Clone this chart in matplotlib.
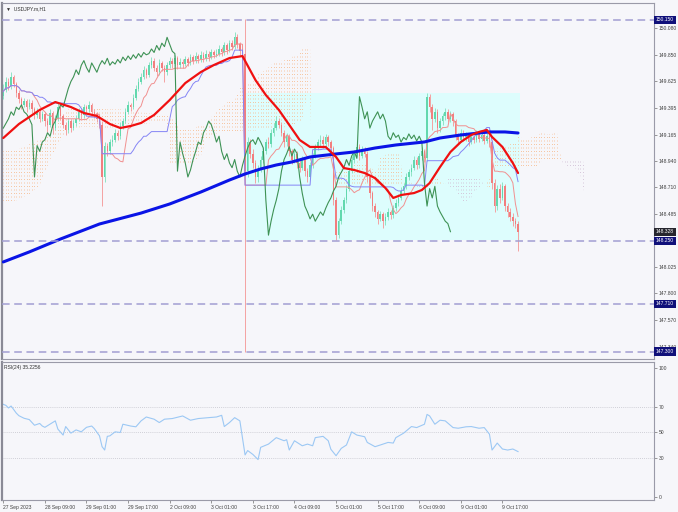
import numpy as np
import pandas as pd
import matplotlib
matplotlib.use('Agg')
import matplotlib.pyplot as plt
from matplotlib.path import Path
from matplotlib.transforms import blended_transform_factory

plt.rcParams['font.family'] = ['Liberation Sans', 'DejaVu Sans']

# USDJPY H1, 27 Sep 17:00 .. 9 Oct 23:00 (bar index = hour on the chart)
open0 = 149.50
closes = [
    149.55, 149.62, 149.58, 149.66, 149.60, 149.52, 149.47, 149.42, 149.45, 149.40,
    149.44, 149.38, 149.33, 149.36, 149.30, 149.34, 149.28, 149.25, 149.35, 149.22,
    149.30, 149.40, 149.32, 149.25, 149.20, 149.28, 149.22, 149.26, 149.30, 149.36,
    149.33, 149.40, 149.38, 149.42, 149.36, 149.34, 149.30, 149.25, 148.80, 149.07,
    149.02, 149.10, 149.12, 149.18, 149.15, 149.24, 149.28, 149.36, 149.42, 149.40,
    149.48, 149.56, 149.62, 149.66, 149.72, 149.68, 149.76, 149.80, 149.74, 149.70,
    149.78, 149.74, 149.70, 149.76, 149.80, 149.77, 149.82, 149.76, 149.79, 149.77,
    149.81, 149.78, 149.83, 149.80, 149.84, 149.81, 149.85, 149.82, 149.86, 149.83,
    149.87, 149.85, 149.86, 149.90, 149.87, 149.93, 149.89, 149.95, 149.92, 150.00,
    149.94, 149.88, 149.86, 148.85, 149.10, 149.00, 148.92, 148.80, 148.86, 148.95,
    149.02, 149.10, 149.08, 149.18, 149.22, 149.28, 149.25, 149.18, 149.10, 149.15,
    149.02, 148.95, 149.00, 148.92, 148.88, 148.95, 148.85, 148.80, 148.90, 148.98,
    149.05, 149.10, 149.12, 149.08, 149.14, 149.10, 149.05, 148.60, 148.30, 148.42,
    148.52, 148.60, 148.70, 148.85, 148.95, 149.00, 149.06, 148.98, 149.04, 149.00,
    148.80, 148.66, 148.55, 148.50, 148.44, 148.48, 148.42, 148.46, 148.50, 148.47,
    148.53, 148.58, 148.62, 148.68, 148.72, 148.80, 148.84, 148.88, 148.95, 148.90,
    148.98, 149.02, 148.96, 149.49, 149.40, 149.30, 149.36, 149.22, 149.28, 149.32,
    149.36, 149.30, 149.34, 149.28, 149.15, 149.12, 149.18, 149.14, 149.16, 149.10,
    149.14, 149.12, 149.17, 149.13, 149.16, 149.11, 149.15, 149.10, 148.75, 148.55,
    148.70, 148.62, 148.72, 148.55, 148.50, 148.46, 148.42, 148.40, 148.33,
]
highs = [
    149.60, 149.66, 149.65, 149.70, 149.68, 149.62, 149.55, 149.49, 149.48, 149.47,
    149.47, 149.46, 149.40, 149.39, 149.38, 149.37, 149.36, 149.31, 149.38, 149.37,
    149.33, 149.44, 149.42, 149.34, 149.27, 149.31, 149.30, 149.29, 149.33, 149.39,
    149.38, 149.43, 149.42, 149.45, 149.44, 149.38, 149.36, 149.32, 149.28, 149.10,
    149.09, 149.13, 149.16, 149.21, 149.20, 149.27, 149.31, 149.39, 149.45, 149.44,
    149.51, 149.59, 149.65, 149.69, 149.75, 149.74, 149.79, 149.83, 149.82, 149.76,
    149.81, 149.80, 149.76, 149.79, 149.83, 149.82, 149.85, 149.84, 149.82, 149.81,
    149.84, 149.83, 149.86, 149.85, 149.87, 149.86, 149.88, 149.87, 149.89, 149.88,
    149.90, 149.89, 149.90, 149.93, 149.92, 149.96, 149.95, 149.98, 149.98, 150.05,
    150.03, 149.96, 149.91, 150.16, 149.14, 149.13, 149.04, 148.95, 148.90, 148.98,
    149.05, 149.13, 149.14, 149.21, 149.26, 149.32, 149.31, 149.27, 149.20, 149.18,
    149.17, 149.04, 149.03, 149.02, 148.95, 148.98, 148.97, 148.88, 148.93, 149.01,
    149.08, 149.13, 149.16, 149.15, 149.17, 149.16, 149.12, 149.07, 148.63, 148.45,
    148.55, 148.63, 148.73, 148.88, 148.98, 149.03, 149.10, 149.08, 149.07, 149.06,
    149.02, 148.82, 148.68, 148.58, 148.52, 148.51, 148.50, 148.49, 148.53, 148.52,
    148.56, 148.61, 148.65, 148.71, 148.75, 148.83, 148.87, 148.91, 148.98, 148.97,
    149.01, 149.06, 149.04, 149.52, 149.51, 149.43, 149.39, 149.38, 149.31, 149.35,
    149.39, 149.38, 149.37, 149.36, 149.30, 149.18, 149.21, 149.20, 149.19, 149.18,
    149.17, 149.16, 149.20, 149.19, 149.19, 149.18, 149.18, 149.17, 149.12, 148.78,
    148.73, 148.74, 148.76, 148.74, 148.58, 148.53, 148.49, 148.45, 148.42,
]
lows = [
    149.47, 149.53, 149.55, 149.56, 149.57, 149.49, 149.44, 149.38, 149.40, 149.36,
    149.38, 149.35, 149.30, 149.31, 149.27, 149.28, 149.24, 149.19, 149.23, 149.17,
    149.20, 149.28, 149.29, 149.22, 149.16, 149.18, 149.19, 149.20, 149.24, 149.28,
    149.30, 149.31, 149.35, 149.36, 149.33, 149.31, 149.27, 149.22, 148.55, 148.76,
    148.98, 149.00, 149.07, 149.10, 149.12, 149.13, 149.21, 149.26, 149.34, 149.37,
    149.38, 149.46, 149.54, 149.60, 149.64, 149.65, 149.66, 149.74, 149.71, 149.67,
    149.68, 149.71, 149.62, 149.68, 149.74, 149.74, 149.75, 149.73, 149.74, 149.74,
    149.75, 149.75, 149.76, 149.77, 149.78, 149.78, 149.79, 149.79, 149.80, 149.80,
    149.81, 149.82, 149.83, 149.84, 149.84, 149.85, 149.86, 149.87, 149.89, 149.90,
    149.91, 149.85, 149.83, 147.30, 148.80, 148.96, 148.88, 148.75, 148.76, 148.84,
    148.92, 149.00, 149.05, 149.06, 149.15, 149.20, 149.22, 149.15, 149.06, 149.07,
    148.98, 148.91, 148.92, 148.88, 148.84, 148.86, 148.81, 148.76, 148.78, 148.88,
    148.96, 149.03, 149.07, 149.05, 149.06, 149.07, 149.02, 148.56, 148.26, 148.28,
    148.40, 148.49, 148.58, 148.68, 148.83, 148.92, 148.97, 148.95, 148.96, 148.97,
    148.76, 148.62, 148.51, 148.46, 148.40, 148.42, 148.36, 148.39, 148.43, 148.44,
    148.45, 148.51, 148.55, 148.60, 148.65, 148.70, 148.77, 148.81, 148.86, 148.87,
    148.88, 148.95, 148.93, 148.94, 149.36, 149.20, 149.27, 149.18, 149.19, 149.25,
    149.29, 149.27, 149.27, 149.24, 149.12, 149.09, 149.10, 149.11, 149.11, 149.07,
    149.08, 149.09, 149.10, 149.10, 149.11, 149.08, 149.09, 149.06, 148.70, 148.50,
    148.52, 148.58, 148.60, 148.51, 148.46, 148.42, 148.38, 148.36, 148.16,
]

# moving averages
ma_red_x = [0, 6, 14, 20, 26, 31, 36, 41, 45, 49, 53, 58, 64, 70, 76, 81, 87, 92, 97,
            101, 106, 110, 114, 118, 124, 128, 131, 135, 139, 143, 147, 150, 153, 158,
            161, 164, 168, 172, 176, 180, 183, 186, 188, 192, 196, 198]
ma_red = [149.135, 149.255, 149.376, 149.444, 149.401, 149.350, 149.324, 149.255, 149.221,
          149.238, 149.264, 149.333, 149.461, 149.607, 149.702, 149.762, 149.822, 149.839,
          149.633, 149.504, 149.376, 149.247, 149.118, 149.058, 149.058, 148.972, 148.877,
          148.860, 148.834, 148.791, 148.705, 148.620, 148.645, 148.662, 148.688, 148.748,
          148.886, 149.015, 149.101, 149.161, 149.187, 149.204, 149.144, 149.058, 148.920,
          148.834]
ma_blue_x = [0, 10, 22, 37, 53, 64, 76, 87, 93, 99, 105, 111, 118, 128, 135, 143, 151,
             162, 168, 176, 183, 187, 193, 198]
ma_blue = [148.070, 148.156, 148.267, 148.396, 148.490, 148.568, 148.671, 148.774, 148.826,
           148.869, 148.903, 148.929, 148.972, 148.998, 149.015, 149.049, 149.075, 149.101,
           149.135, 149.161, 149.178, 149.187, 149.187, 149.178]

# cloud before the data window (span values shifted in from earlier bars)
early_x = [0, 5, 10, 14, 18, 22, 25, 30, 35, 40, 45, 50, 55, 60, 63, 64, 68, 72, 76]
early_a = [149.03, 149.03, 149.08, 149.12, 149.18, 149.31, 149.38, 149.41, 149.39, 149.38,
           149.38, 149.36, 149.35, 149.34, 149.34, 149.33, 149.22, 149.20, 149.25]
early_b = [148.58, 148.60, 148.65, 148.73, 148.95, 149.12, 149.19, 149.23, 149.23, 149.22,
           149.23, 149.26, 149.26, 149.27, 149.27, 148.92, 148.91, 148.91, 148.98]

rsi_x = [0, 1, 2, 3, 5, 6, 8, 10, 12, 14, 15, 16, 20, 21, 23, 24, 26, 28, 30, 32, 34, 35,
         37, 38, 39, 40, 41, 43, 45, 46, 49, 51, 53, 55, 58, 60, 62, 65, 69, 72, 75, 79,
         82, 84, 85, 87, 89, 91, 93, 94, 96, 98, 99, 102, 105, 108, 109, 110, 112, 115,
         117, 119, 120, 123, 125, 126, 128, 130, 132, 134, 136, 139, 140, 143, 145, 148,
         150, 151, 154, 157, 159, 162, 163, 164, 166, 168, 170, 173, 175, 178, 180, 183,
         185, 187, 188, 190, 192, 194, 196, 198]
rsi = [71.8, 71.0, 69.0, 70.5, 65.0, 63.0, 61.0, 60.0, 55.6, 57.0, 55.0, 54.0, 59.0, 52.6,
       48.0, 54.6, 49.5, 52.0, 50.5, 54.0, 55.0, 53.0, 47.4, 39.0, 36.4, 47.0, 47.4, 50.5,
       50.0, 56.4, 55.0, 54.4, 59.0, 62.0, 60.3, 57.7, 60.3, 60.8, 62.8, 59.5, 60.8, 61.5,
       62.0, 63.3, 54.6, 57.7, 61.5, 59.0, 32.6, 36.0, 33.0, 29.0, 38.5, 41.0, 46.0, 43.6,
       44.4, 36.4, 43.6, 39.7, 41.0, 39.7, 46.0, 47.0, 43.6, 37.0, 32.0, 37.7, 40.3, 50.5,
       48.0, 46.7, 42.3, 39.0, 40.3, 42.3, 41.8, 46.0, 49.5, 54.6, 53.8, 56.4, 64.0, 62.8,
       56.4, 59.5, 59.0, 53.8, 53.3, 54.4, 54.6, 53.3, 53.8, 48.7, 36.4, 41.8, 37.2, 36.4,
       37.2, 35.2]

levels = [150.150, 148.250, 147.710, 147.300]
price_ticks = [150.080, 149.850, 149.625, 149.395, 149.165, 148.940, 148.710, 148.485,
               148.025, 147.800, 147.570, 147.340]
time_ticks = [0, 16, 32, 48, 64, 80, 96, 112, 128, 144, 160, 176, 192]
time_labels = ['27 Sep 2023', '28 Sep 09:00', '29 Sep 01:00', '29 Sep 17:00', '2 Oct 09:00',
               '3 Oct 01:00', '3 Oct 17:00', '4 Oct 09:00', '5 Oct 01:00', '5 Oct 17:00',
               '6 Oct 09:00', '9 Oct 01:00', '9 Oct 17:00']

# ---- derived series ----
n = len(closes)
x = np.arange(n)
c = np.array(closes)
o = np.array([open0] + closes[:-1])
h = pd.Series(highs)
l = pd.Series(lows)
tenkan = (h.rolling(9, min_periods=1).max() + l.rolling(9, min_periods=1).min()) / 2
kijun = (h.rolling(26, min_periods=1).max() + l.rolling(26, min_periods=1).min()) / 2
span_a = ((tenkan + kijun) / 2).values
span_b = ((h.rolling(52, min_periods=1).max() + l.rolling(52, min_periods=1).min()) / 2).values

cloud_x = np.array(early_x + list(range(78, n + 26)))
cloud_a = np.array(early_a + list(span_a[52:]))
cloud_b = np.array(early_b + list(span_b[52:]))

# ---- figure ----
W, H = 678, 512
bg = '#F6F6FA'
fig = plt.figure(figsize=(W / 100, H / 100), dpi=100)
fig.patch.set_facecolor(bg)


def rect(left, top, right, bottom):
    return [left / W, 1 - bottom / H, (right - left) / W, (bottom - top) / H]


ax = fig.add_axes(rect(2, 3, 654, 359))
axr = fig.add_axes(rect(2, 362, 654, 500))
for a in (ax, axr):
    a.set_facecolor(bg)
    a.set_xlim(-0.5, 250.3)
    for s in a.spines.values():
        s.set_color('#9A9AA8')
        s.set_linewidth(0.8)
    a.spines['left'].set_linewidth(1.6)
    a.spines['left'].set_color('#8A8A96')
ax.set_ylim(147.236, 150.295)
axr.set_ylim(-2.3, 104.6)

# cyan range box
ax.fill_between([93.4, 198.6], 148.26, 149.52, color='#DDFDFD', lw=0, zorder=1)


def cloud(mask, color):
    coll = ax.fill_between(cloud_x, cloud_a, cloud_b, where=mask, interpolate=True,
                           facecolor='none', edgecolor='none')
    paths = coll.get_paths()
    coll.remove()
    if not paths:
        return
    clip = Path.make_compound_path(*paths)
    vl = ax.vlines(np.arange(0, n + 26), 147.0, 150.5, colors=color, lw=0.6,
                   linestyles=(0, (1.2, 3.0)), zorder=2)
    vl.set_clip_path(clip, ax.transData)


cloud(cloud_a >= cloud_b, '#F6BE94')
cloud(cloud_a < cloud_b, '#D2C0D6')

# candles
up = c >= o
colors = np.where(up, '#62D8AE', '#F27E7E')
wick = np.where(up, '#8FE4C6', '#F4A2A2')
ax.vlines(x, lows, highs, colors=wick, lw=0.7, zorder=3)
body_lo = np.minimum(o, c)
body_h = np.maximum(np.abs(c - o), 0.006)
ax.bar(x, body_h, width=0.6, bottom=body_lo, color=colors, lw=0, zorder=3)

# ichimoku lines
ax.plot(x, tenkan, color='#F19090', lw=0.7, zorder=4)
ax.plot(x, kijun, color='#8585F5', lw=0.7, zorder=4)
ax.plot(x[:-26], c[26:], color='#3E9255', lw=0.8, zorder=4)

# moving averages
ax.plot(ma_blue_x, ma_blue, color='#0A14E6', lw=2.2, zorder=5, solid_capstyle='round')
ax.plot(ma_red_x, ma_red, color='#F01010', lw=1.6, zorder=5, solid_capstyle='round')

# horizontal levels
for lv in levels:
    ax.axhline(lv, color='#A29ED2', lw=1.1, ls=(0, (5, 3)), zorder=6)

# right price scale
ax.yaxis.tick_right()
ax.set_yticks(price_ticks)
ax.set_yticklabels(['%.3f' % t for t in price_ticks])
ax.tick_params(axis='y', length=2, width=0.5, color='#707070', labelsize=3.6,
               labelcolor='#404040', pad=1.5)
ax.set_xticks([])
trans = blended_transform_factory(ax.transAxes, ax.transData)
for lv in levels:
    ax.text(1.003, lv, '%.3f' % lv, transform=trans, fontsize=3.6, color='white',
            va='center', ha='left', zorder=7,
            bbox=dict(boxstyle='square,pad=0.35', fc='#10107A', ec='none'))
ax.text(1.003, closes[-1] - 0.002, '148.328', transform=trans, fontsize=3.6, color='white',
        va='center', ha='left', zorder=7,
        bbox=dict(boxstyle='square,pad=0.35', fc='#26262E', ec='none'))
ax.text(0.006, 0.992, '\u25bc  USDJPY.m,H1', transform=ax.transAxes, fontsize=3.6,
        color='#303030', va='top', ha='left')

# RSI panel
for lv in (70, 50, 30):
    axr.axhline(lv, color='#C4C4CC', lw=0.6, ls=(0, (1, 1.5)))
axr.plot(rsi_x, rsi, color='#9CC8F4', lw=0.8)
axr.yaxis.tick_right()
axr.set_yticks([100, 70, 50, 30, 0])
axr.tick_params(axis='y', length=2, width=0.5, color='#707070', labelsize=3.6,
                labelcolor='#404040', pad=1.5)
axr.set_xticks(time_ticks)
axr.set_xticklabels(time_labels, ha='left')
axr.tick_params(axis='x', length=2, width=0.5, color='#707070', labelsize=3.6,
                labelcolor='#404040', pad=1.5)
axr.text(0.003, 0.975, 'RSI(24) 35.2256', transform=axr.transAxes, fontsize=3.6,
         color='#303030', va='top', ha='left')

fig.savefig('out.png', dpi=100, facecolor=bg)
